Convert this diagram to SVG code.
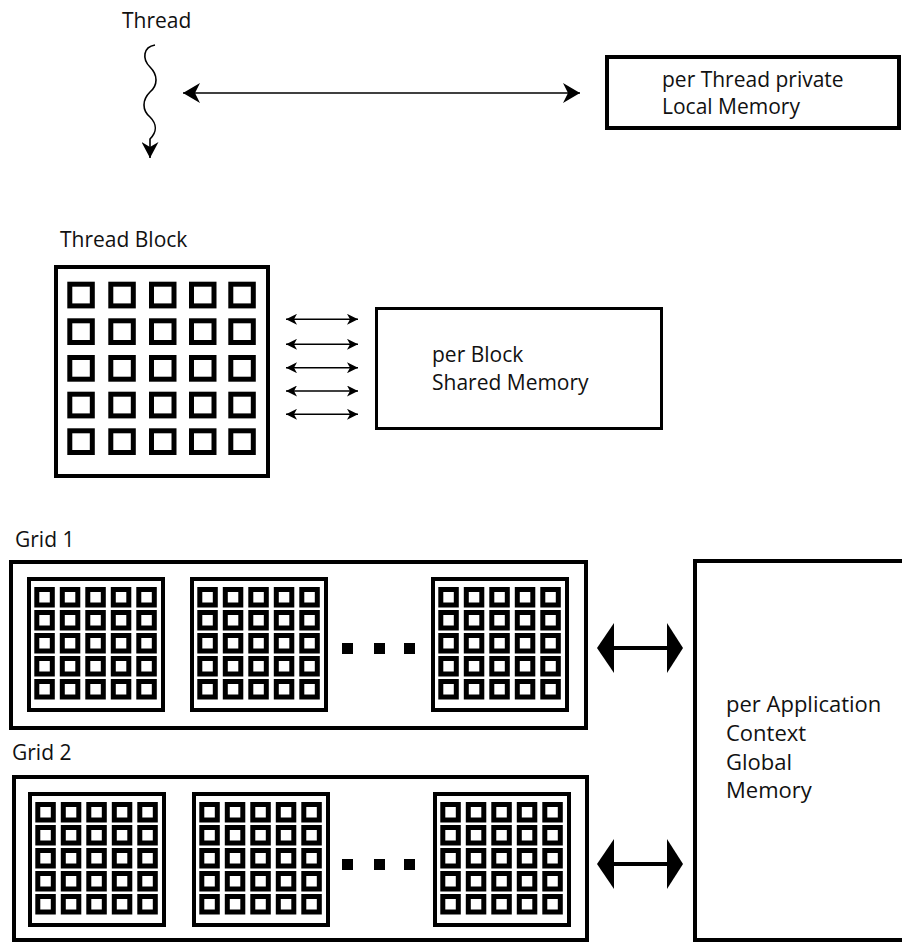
<svg xmlns="http://www.w3.org/2000/svg" xmlns:xlink="http://www.w3.org/1999/xlink" width="902" height="944" viewBox="0 0 902 944">
<style>
  text { font-family: "Open Sans", "Noto Sans", "Liberation Sans", sans-serif; font-size: 21px; fill: #111; }
  .big { font-size: 22px; }
  .box { fill: #fff; stroke: #000; stroke-width: 4; }
  .thin { fill: #fff; stroke: #000; stroke-width: 3; }
  .cell { fill: #fff; stroke: #000; stroke-width: 5; }
  .mcell { fill: #fff; stroke: #000; stroke-width: 5; }
  .wire { fill: none; stroke: #000; stroke-width: 1.6; }
  .fat { fill: none; stroke: #000; stroke-width: 4; }
  .head { fill: #000; stroke: none; }
</style>
<defs>
  <marker id="arrL" markerUnits="userSpaceOnUse" viewBox="0 0 17 20" refX="17" refY="10" markerWidth="17" markerHeight="20" orient="auto-start-reverse">
    <path d="M0,0 L17,10 L0,20 L5,10 Z" fill="#000"/>
  </marker>
  <marker id="arrS" markerUnits="userSpaceOnUse" viewBox="0 0 11 11" refX="11" refY="5.5" markerWidth="11" markerHeight="11" orient="auto-start-reverse">
    <path d="M0,0 L11,5.5 L0,11 L3,5.5 Z" fill="#000"/>
  </marker>
  <marker id="arrW" markerUnits="userSpaceOnUse" viewBox="0 0 16 17" refX="16" refY="8.5" markerWidth="16" markerHeight="17" orient="auto">
    <path d="M0,0 L16,8.5 L0,17 L5,8.5 Z" fill="#000"/>
  </marker>
  <g id="mini">
    <rect class="box" x="2" y="2" width="134" height="131"/>
    <g id="mrow">
      <rect class="mcell" x="9.8" y="12.5" width="15.5" height="15.5"/>
      <rect class="mcell" x="35.3" y="12.5" width="15.5" height="15.5"/>
      <rect class="mcell" x="60.8" y="12.5" width="15.5" height="15.5"/>
      <rect class="mcell" x="86.3" y="12.5" width="15.5" height="15.5"/>
      <rect class="mcell" x="111.8" y="12.5" width="15.5" height="15.5"/>
    </g>
    <use xlink:href="#mrow" y="23"/>
    <use xlink:href="#mrow" y="46"/>
    <use xlink:href="#mrow" y="69"/>
    <use xlink:href="#mrow" y="92"/>
  </g>
  <g id="trow">
    <rect class="cell" x="69.8" y="284.2" width="22.5" height="21.7"/>
    <rect class="cell" x="110.8" y="284.2" width="22.5" height="21.7"/>
    <rect class="cell" x="151.5" y="284.2" width="22.5" height="21.7"/>
    <rect class="cell" x="191.5" y="284.2" width="22.5" height="21.7"/>
    <rect class="cell" x="230.8" y="284.2" width="22.5" height="21.7"/>
  </g>
</defs>

<g id="thread">
  <text x="122" y="28">Thread</text>
</g>

<g id="local-memory">
  <rect class="box" x="607" y="57" width="292" height="71"/>
  <text x="662" y="87">per Thread private</text>
  <text x="662" y="114">Local Memory</text>
</g>

<g id="thread-block">
  <text x="60" y="247">Thread Block</text>
  <rect class="box" x="56" y="267" width="212" height="209"/>
  <use xlink:href="#trow"/>
  <use xlink:href="#trow" y="36.6"/>
  <use xlink:href="#trow" y="73.3"/>
  <use xlink:href="#trow" y="110"/>
  <use xlink:href="#trow" y="146.6"/>
</g>

<g id="shared-memory">
  <rect class="thin" x="376.5" y="308.5" width="285" height="120"/>
  <text x="432" y="362">per Block</text>
  <text x="432" y="390">Shared Memory</text>
</g>

<g id="grid1">
  <text x="15" y="547">Grid 1</text>
  <rect class="box" x="11" y="562" width="575" height="166"/>
  <use xlink:href="#mini" x="27" y="577"/>
  <use xlink:href="#mini" x="190" y="577"/>
  <use xlink:href="#mini" x="431" y="577"/>
  <rect x="342" y="643" width="11" height="11" fill="#000"/>
  <rect x="374" y="643" width="11" height="11" fill="#000"/>
  <rect x="404" y="643" width="11" height="11" fill="#000"/>
</g>

<g id="grid2">
  <text x="12" y="760">Grid 2</text>
  <rect class="box" x="14" y="777" width="573" height="163"/>
  <use xlink:href="#mini" x="28" y="792"/>
  <use xlink:href="#mini" x="192" y="792"/>
  <use xlink:href="#mini" x="433" y="792"/>
  <rect x="342" y="859" width="11" height="11" fill="#000"/>
  <rect x="374" y="859" width="11" height="11" fill="#000"/>
  <rect x="404" y="859" width="11" height="11" fill="#000"/>
</g>

<g id="global-memory">
  <rect class="box" x="695" y="561" width="300" height="379"/>
  <text class="big" x="726" y="712">per Application</text>
  <text class="big" x="726" y="741">Context</text>
  <text class="big" x="726" y="770">Global</text>
  <text class="big" x="726" y="798">Memory</text>
</g>

<g id="connectors">
  <path class="wire" d="M155,45 C143,47 142,59 150,67 C158,75 158,85 150,92 C142,100 142,110 150,117 C157,124 157,132 150,139 L150,158" marker-end="url(#arrW)" stroke-width="2"/>
  <line class="wire" x1="183" y1="93" x2="580" y2="93" marker-start="url(#arrL)" marker-end="url(#arrL)"/>
  <line class="wire" x1="286" y1="319.3" x2="358" y2="319.3" marker-start="url(#arrS)" marker-end="url(#arrS)"/>
  <line class="wire" x1="286" y1="344.3" x2="358" y2="344.3" marker-start="url(#arrS)" marker-end="url(#arrS)"/>
  <line class="wire" x1="286" y1="367.7" x2="358" y2="367.7" marker-start="url(#arrS)" marker-end="url(#arrS)"/>
  <line class="wire" x1="286" y1="391" x2="358" y2="391" marker-start="url(#arrS)" marker-end="url(#arrS)"/>
  <line class="wire" x1="286" y1="414.3" x2="358" y2="414.3" marker-start="url(#arrS)" marker-end="url(#arrS)"/>
  <line class="fat" x1="612" y1="648" x2="669" y2="648"/>
  <polygon class="head" points="597,648 614,623 614,673"/>
  <polygon class="head" points="683,648 667,623 667,673"/>
  <line class="fat" x1="612" y1="864" x2="669" y2="864"/>
  <polygon class="head" points="597,864 614,839 614,889"/>
  <polygon class="head" points="683,864 667,839 667,889"/>
</g>
</svg>
